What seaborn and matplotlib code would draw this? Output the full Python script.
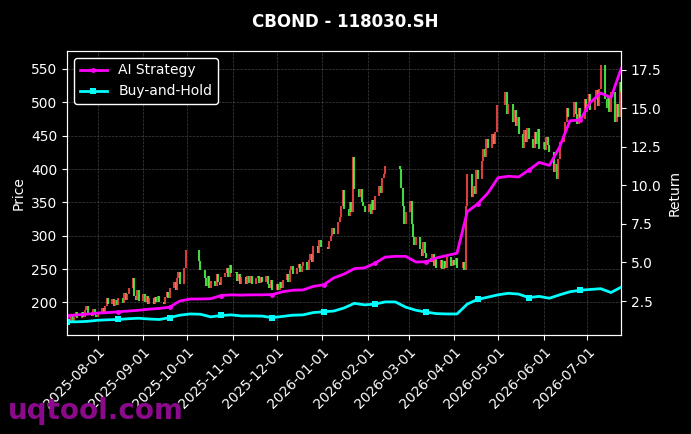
import numpy as np
import pandas as pd
import matplotlib
matplotlib.use("Agg")
import matplotlib.pyplot as plt
import matplotlib.dates as mdates
import seaborn as sns

# Daily closes, one list per month
close_2025_07 = [172, 180, 170, 178, 185, 176, 186, 178, 188, 194, 182, 179, 190, 181, 178]
close_2025_08 = [184, 192, 183, 194, 206, 197, 205, 195, 203, 196, 206, 199, 214, 204, 212,
                 222, 236, 210, 204, 218, 202]
close_2025_09 = [212, 200, 209, 198, 207, 197, 208, 200, 210, 201, 197, 208, 216, 206, 222,
                 230, 218, 236, 245, 228, 252, 278]
close_2025_10 = [262, 248, 236, 224, 240, 222, 232, 224, 242, 230, 226, 238, 244, 252, 238,
                 256, 244]
close_2025_11 = [245, 232, 242, 228, 238, 227, 239, 229, 240, 228, 236, 240, 229, 238, 230,
                 240, 228, 222, 234, 218]
close_2025_12 = [228, 219, 231, 222, 233, 242, 230, 248, 254, 243, 252, 258, 246, 255, 260,
                 249, 264, 272, 260, 285, 274, 293, 283]
close_2026_01 = [280, 292, 300, 312, 302, 320, 328, 345, 368, 340, 330, 350, 336, 418, 370,
                 358, 370, 350, 345, 336]
close_2026_02 = [348, 332, 354, 338, 360, 374, 364, 386, 392, 405, 400, 372, 345, 318, 335]
close_2026_03 = [352, 318, 298, 286, 298, 280, 270, 290, 274, 266, 260, 272, 255, 268, 252,
                 264, 250, 262, 252, 268, 255, 264]
close_2026_04 = [256, 266, 252, 260, 249, 345, 392, 358, 375, 362, 398, 385, 412, 430, 418,
                 445, 432, 452, 438, 455, 496]
close_2026_05 = [515, 482, 498, 470, 488, 464, 478, 452, 432, 458, 440, 462, 445, 432, 455,
                 438, 460, 430]
close_2026_06 = [440, 428, 448, 436, 425, 395, 408, 385, 415, 440, 452, 470, 492, 478, 500,
                 482, 468, 492, 475, 505, 485]
close_2026_07 = [498, 512, 488, 505, 518, 495, 520, 556, 505, 492, 510, 486, 515, 470, 498,
                 478, 530, 515]
first_open = 170

holidays = pd.to_datetime([
    "2025-10-01", "2025-10-02", "2025-10-03", "2025-10-06", "2025-10-07", "2025-10-08",
    "2026-01-01", "2026-01-02",
    "2026-02-16", "2026-02-17", "2026-02-18", "2026-02-19", "2026-02-20",
    "2026-04-06", "2026-05-01", "2026-05-04", "2026-05-05", "2026-06-19",
])

# Weekly (Friday) values of the two return curves
strategy_return = [1.55, 1.60, 1.65,
                   1.72, 1.75, 1.80, 1.85, 1.90,
                   1.97, 2.02, 2.10, 2.50,
                   2.63, 2.63, 2.65, 2.85, 2.90,
                   2.88, 2.90, 2.90, 2.92,
                   3.10, 3.20, 3.22, 3.45,
                   3.55, 4.00, 4.25, 4.60, 4.65,
                   4.95, 5.35, 5.40, 5.40,
                   5.03, 5.05, 5.30, 5.45,
                   5.60, 8.30, 8.80, 9.50,
                   10.5, 10.6, 10.55, 11.0, 11.5,
                   11.3, 12.5, 14.2, 14.25,
                   15.4, 16.0, 15.7, 17.6]
buyhold_return = [1.14, 1.15, 1.18,
                  1.25, 1.28, 1.30, 1.35, 1.38,
                  1.33, 1.30, 1.42, 1.58,
                  1.66, 1.64, 1.47, 1.56, 1.60,
                  1.53, 1.53, 1.52, 1.42,
                  1.50, 1.58, 1.60, 1.75,
                  1.80, 1.85, 2.05, 2.35, 2.25,
                  2.30, 2.44, 2.44, 2.10,
                  1.90, 1.78, 1.68, 1.66,
                  1.66, 2.30, 2.60, 2.75,
                  2.90, 3.00, 2.95, 2.72, 2.80,
                  2.68, 2.90, 3.10, 3.20,
                  3.25, 3.30, 3.05, 3.40]

# Build the frames
close = (close_2025_07 + close_2025_08 + close_2025_09 + close_2025_10 + close_2025_11
         + close_2025_12 + close_2026_01 + close_2026_02 + close_2026_03 + close_2026_04
         + close_2026_05 + close_2026_06 + close_2026_07)
days = pd.bdate_range("2025-07-11", "2026-07-24")
days = days[~days.isin(holidays)]
n = min(len(days), len(close))
candles = pd.DataFrame({"date": days[:n], "close": close[:n]})
candles["open"] = [first_open] + list(candles["close"].iloc[:-1])
candles["up"] = candles["close"] >= candles["open"]

weeks = pd.date_range("2025-07-11", "2026-07-24", freq="W-FRI")
returns = pd.DataFrame({"date": weeks, "strategy": strategy_return, "buyhold": buyhold_return})

plt.style.use("dark_background")
plt.rcParams["font.family"] = ["DejaVu Sans"]

fig, ax = plt.subplots(figsize=(6.91, 4.34), dpi=100)
fig.subplots_adjust(left=0.097, right=0.899, top=0.8825, bottom=0.228)

# Candles: red up, green down
colors = np.where(candles["up"], "#ff4a4a", "#4dff4d")
ax.vlines(candles["date"], candles[["open", "close"]].min(axis=1),
          candles[["open", "close"]].max(axis=1), colors=colors, linewidth=1.5, alpha=0.85)
ax.set_ylim(151, 577)
ax.set_xlim(days[0], days[n - 1])
ax.set_ylabel("Price", fontsize=10)
ax.grid(True, color="gray", linestyle="--", linewidth=0.5, alpha=0.5)
ax.xaxis.set_major_locator(mdates.MonthLocator())
ax.xaxis.set_major_formatter(mdates.DateFormatter("%Y-%m-%d"))
plt.setp(ax.get_xticklabels(), rotation=45, ha="right", rotation_mode="anchor")
ax.tick_params(labelsize=10)

ax2 = ax.twinx()
sns.lineplot(data=returns, x="date", y="strategy", ax=ax2, color="#ff00ff", linewidth=2,
             marker="o", markersize=3.5, markeredgewidth=0, markevery=5, label="AI Strategy")
sns.lineplot(data=returns, x="date", y="buyhold", ax=ax2, color="#00ffff", linewidth=2,
             marker="s", markersize=4, markeredgewidth=0, markevery=5, label="Buy-and-Hold")
ax2.set_ylim(0.29, 18.73)
ax2.set_ylabel("Return", fontsize=10)
ax2.set_xlabel("")
ax.set_xlabel("")
ax2.tick_params(labelsize=10)
ax2.legend(loc="upper left", fontsize=10, facecolor="black", edgecolor="white", framealpha=1)

fig.suptitle("CBOND - 118030.SH", fontsize=12, fontweight="bold", y=0.97)
fig.text(0.012, 0.035, "uqtool.com", fontsize=20, fontweight="bold", color="#8b0a8b")

plt.savefig("out.png", dpi=100)
